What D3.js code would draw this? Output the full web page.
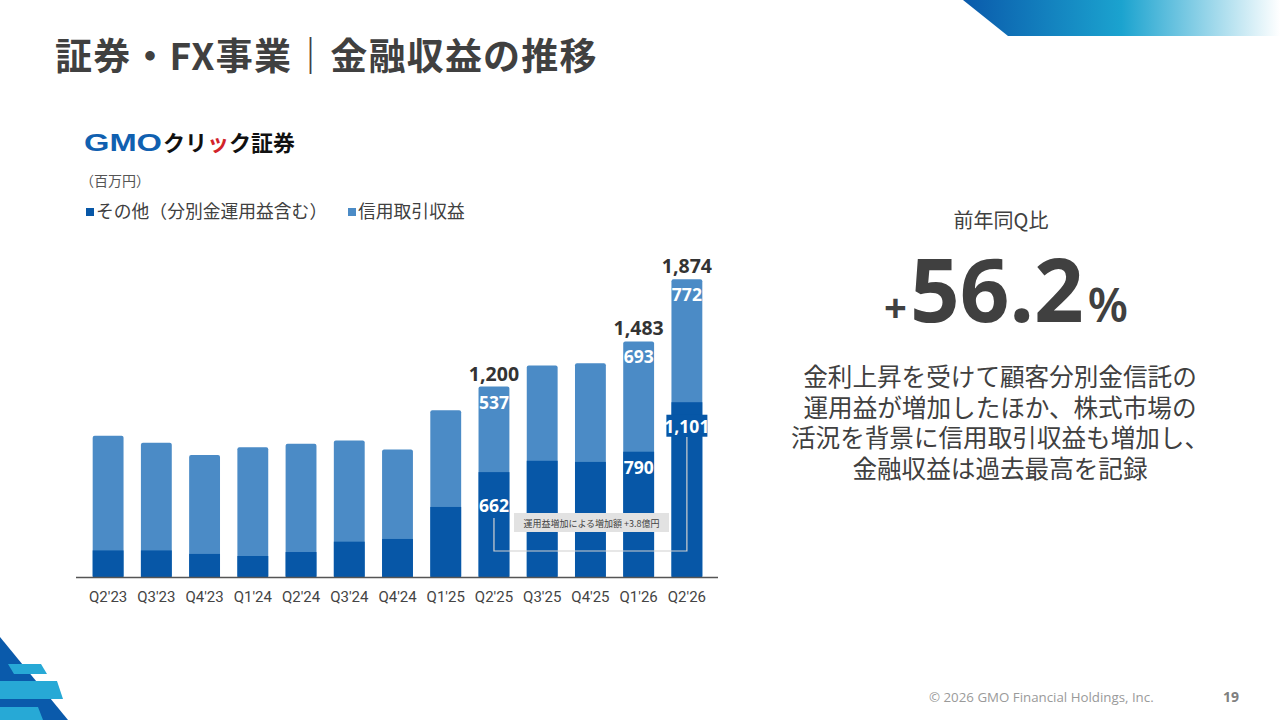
<!DOCTYPE html>
<html>
<head>
<meta charset="utf-8">
<script src="https://cdn.jsdelivr.net/npm/d3@7"></script>
<style>
  html, body { margin: 0; padding: 0; background: #fff; }
  svg { display: block; }
</style>
</head>
<body>
<svg id="slide" width="1280" height="720"></svg>
<script>
// values (百万円)
const quarters = ["Q2'23", "Q3'23", "Q4'23", "Q1'24", "Q2'24", "Q3'24", "Q4'24",
                  "Q1'25", "Q2'25", "Q3'25", "Q4'25", "Q1'26", "Q2'26"];
const otherIncome = [170, 170, 148, 135, 160, 225, 242, 443, 662, 733, 726, 790, 1101];
const marginIncome = [720, 676, 622, 683, 680, 635, 562, 608, 537, 599, 620, 693, 772];
const totalLabels = [null, null, null, null, null, null, null, null, "1,200", null, null, "1,483", "1,874"];
const otherLabels = [null, null, null, null, null, null, null, null, "662", null, null, "790", "1,101"];
const marginLabels = [null, null, null, null, null, null, null, null, "537", null, null, "693", "772"];
const seriesNames = ["その他（分別金運用益含む）", "信用取引収益"];
const noteText = "運用益増加による増加額 +3.8億円";

const DARK = "#0757a7";
const LIGHT = "#4b8bc6";
const TEXT = "#404040";
const JP = "'Noto Sans CJK JP', 'Noto Sans', sans-serif";
const NUM = "'Noto Sans', 'Open Sans', sans-serif";

const svg = d3.select("#slide");

// ---- decoration: top-right banner
const defs = svg.append("defs");
const grad = defs.append("linearGradient").attr("id", "band").attr("x1", "0").attr("x2", "1");
grad.append("stop").attr("offset", "0").attr("stop-color", "#0a5aab");
grad.append("stop").attr("offset", "0.5").attr("stop-color", "#1ba3cf");
grad.append("stop").attr("offset", "1").attr("stop-color", "#ffffff");
svg.append("path").attr("d", "M963,0 L1280,0 L1280,36 L1008,36 Z").attr("fill", "url(#band)");

// ---- decoration: bottom-left
svg.append("path").attr("d", "M0,637 L68,720 L0,720 Z").attr("fill", "#0a5aab");
svg.append("path").attr("d", "M8,664 L41,664 L47,674 L14,674 Z").attr("fill", "#27a9d6");
svg.append("path").attr("d", "M0,681 L57,681 L63,699 L0,699 Z").attr("fill", "#27a9d6");
svg.append("path").attr("d", "M0,707 L38,707 L43,720 L0,720 Z").attr("fill", "#27a9d6");

// ---- title
svg.append("text")
  .attr("x", 55).attr("y", 70)
  .attr("font-family", JP).attr("font-weight", 700).attr("font-size", 37)
  .attr("letter-spacing", 1.2)
  .attr("fill", TEXT)
  .text("証券・FX事業｜金融収益の推移");

// ---- logo
const logo = svg.append("text")
  .attr("x", 84).attr("y", 151)
  .attr("font-weight", 700);
logo.append("tspan")
  .attr("font-family", "'Liberation Sans', Arial, sans-serif").attr("font-weight", 900)
  .attr("font-size", 24).attr("fill", "#1060b0")
  .attr("textLength", 78).attr("lengthAdjust", "spacingAndGlyphs")
  .text("GMO");
logo.append("tspan").attr("font-family", JP).attr("font-size", 22).attr("fill", "#111").attr("dx", 1).text("クリ");
logo.append("tspan").attr("font-family", JP).attr("font-size", 22).attr("fill", "#d2232a").text("ッ");
logo.append("tspan").attr("font-family", JP).attr("font-size", 22).attr("fill", "#111").text("ク証券");

// ---- unit + legend
svg.append("text")
  .attr("x", 80).attr("y", 186)
  .attr("font-family", JP).attr("font-size", 14).attr("fill", "#555")
  .text("（百万円）");

const legendX = [86, 348];
const legendColors = [DARK, LIGHT];
seriesNames.forEach((name, i) => {
  svg.append("rect")
    .attr("x", legendX[i]).attr("y", 208).attr("width", 8).attr("height", 8)
    .attr("fill", legendColors[i]);
  svg.append("text")
    .attr("x", legendX[i] + 10).attr("y", 218)
    .attr("font-family", JP).attr("font-size", 17.8).attr("fill", TEXT)
    .text(name);
});

// ---- chart
const baseY = 577.5;
const x = d3.scaleBand()
  .domain(quarters)
  .range([84, 711])
  .paddingInner(0.36)
  .paddingOuter(0.18);
const y = d3.scaleLinear()
  .domain([0, 2000])
  .range([baseY, baseY - 318.4]);

const rows = quarters.map((q, i) => ({
  q,
  other: otherIncome[i],
  margin: marginIncome[i],
  total: otherIncome[i] + marginIncome[i],
  totalLabel: totalLabels[i],
  otherLabel: otherLabels[i],
  marginLabel: marginLabels[i]
}));

const bars = svg.append("g");
bars.selectAll("rect.margin")
  .data(rows).join("rect")
  .attr("class", "margin")
  .attr("x", d => x(d.q))
  .attr("y", d => y(d.total))
  .attr("width", x.bandwidth())
  .attr("height", d => baseY - y(d.total))
  .attr("rx", 2)
  .attr("fill", LIGHT);
bars.selectAll("rect.other")
  .data(rows).join("rect")
  .attr("class", "other")
  .attr("x", d => x(d.q))
  .attr("y", d => y(d.other))
  .attr("width", x.bandwidth())
  .attr("height", d => baseY - y(d.other))
  .attr("fill", DARK);

// bracket for the note
const qFrom = "Q2'25", qTo = "Q2'26";
const cFrom = x(qFrom) + x.bandwidth() / 2;
const cTo = x(qTo) + x.bandwidth() / 2;
svg.append("path")
  .attr("d", `M${cFrom},518 V551 H${cTo} V437`)
  .attr("fill", "none")
  .attr("stroke", "#d0d0d0")
  .attr("stroke-width", 1.2);
svg.append("rect")
  .attr("x", 514).attr("y", 513).attr("width", 155).attr("height", 19)
  .attr("fill", "#e2e2e2");
svg.append("text")
  .attr("x", 591.5).attr("y", 526.5)
  .attr("text-anchor", "middle")
  .attr("font-family", JP).attr("font-size", 9).attr("fill", "#444")
  .text(noteText);

// x axis
const axis = svg.append("g")
  .attr("transform", `translate(0,${baseY})`)
  .call(d3.axisBottom(x).tickSize(0).tickPadding(14));
axis.select(".domain").remove();
axis.selectAll("text")
  .attr("font-family", "Roboto, 'Noto Sans', sans-serif")
  .attr("font-size", 15)
  .attr("fill", "#444");
svg.append("line")
  .attr("x1", 76).attr("x2", 718)
  .attr("y1", baseY).attr("y2", baseY)
  .attr("stroke", "#555").attr("stroke-width", 1.5);

// value labels
const labelled = rows.filter(d => d.totalLabel);
svg.selectAll("text.total")
  .data(labelled).join("text")
  .attr("class", "total")
  .attr("x", d => x(d.q) + x.bandwidth() / 2)
  .attr("y", d => y(d.total) - 6)
  .attr("text-anchor", "middle")
  .attr("font-family", NUM).attr("font-weight", 700).attr("font-size", 19.5)
  .attr("fill", "#333")
  .text(d => d.totalLabel);

svg.selectAll("text.mlab")
  .data(labelled).join("text")
  .attr("class", "mlab")
  .attr("x", d => x(d.q) + x.bandwidth() / 2)
  .attr("y", d => y(d.total) + 22)
  .attr("text-anchor", "middle")
  .attr("font-family", NUM).attr("font-weight", 700).attr("font-size", 17.5)
  .attr("fill", "#fff")
  .text(d => d.marginLabel);

// dark segment labels: the last one sits on a box over the bracket line
const otherDy = { "Q2'25": 40, "Q1'26": 22, "Q2'26": 31 };
const lastQ = quarters[quarters.length - 1];
const last = rows.find(d => d.q === lastQ);
svg.append("rect")
  .attr("x", x(lastQ) + x.bandwidth() / 2 - 20.5)
  .attr("y", y(last.other) + 12.5)
  .attr("width", 41).attr("height", 22)
  .attr("fill", DARK);
svg.selectAll("text.olab")
  .data(labelled).join("text")
  .attr("class", "olab")
  .attr("x", d => x(d.q) + x.bandwidth() / 2)
  .attr("y", d => y(d.other) + otherDy[d.q])
  .attr("text-anchor", "middle")
  .attr("font-family", NUM).attr("font-weight", 700).attr("font-size", 17.5)
  .attr("fill", "#fff")
  .text(d => d.otherLabel);

// ---- right panel
svg.append("text")
  .attr("x", 1001).attr("y", 228)
  .attr("text-anchor", "middle")
  .attr("font-family", JP).attr("font-size", 20).attr("fill", TEXT)
  .text("前年同Q比");

const big = svg.append("text")
  .attr("x", 1006).attr("y", 322)
  .attr("text-anchor", "middle")
  .attr("font-family", NUM).attr("font-weight", 700)
  .attr("fill", TEXT);
big.append("tspan").attr("font-size", 40).text("+");
big.append("tspan").attr("font-size", 87).attr("dx", 3).text("56.2");
big.append("tspan").attr("font-size", 46).attr("font-weight", 600).attr("dx", 4).text("%");

const commentLines = [
  "金利上昇を受けて顧客分別金信託の",
  "運用益が増加したほか、株式市場の",
  "活況を背景に信用取引収益も増加し、",
  "金融収益は過去最高を記録"
];
svg.selectAll("text.comment")
  .data(commentLines).join("text")
  .attr("class", "comment")
  .attr("x", 1000)
  .attr("y", (d, i) => 386 + i * 30.7)
  .attr("text-anchor", "middle")
  .attr("font-family", JP).attr("font-size", 24.6).attr("fill", TEXT)
  .text(d => d);

// ---- footer
svg.append("text")
  .attr("x", 929).attr("y", 702)
  .attr("font-family", "'Open Sans', 'Noto Sans', sans-serif").attr("font-size", 13.3)
  .attr("fill", "#9a9a9a")
  .text("© 2026 GMO Financial Holdings, Inc.");
svg.append("text")
  .attr("x", 1231).attr("y", 702)
  .attr("text-anchor", "middle")
  .attr("font-family", "'Open Sans', 'Noto Sans', sans-serif").attr("font-weight", 700)
  .attr("font-size", 14).attr("fill", "#808080")
  .text("19");
</script>
</body>
</html>
